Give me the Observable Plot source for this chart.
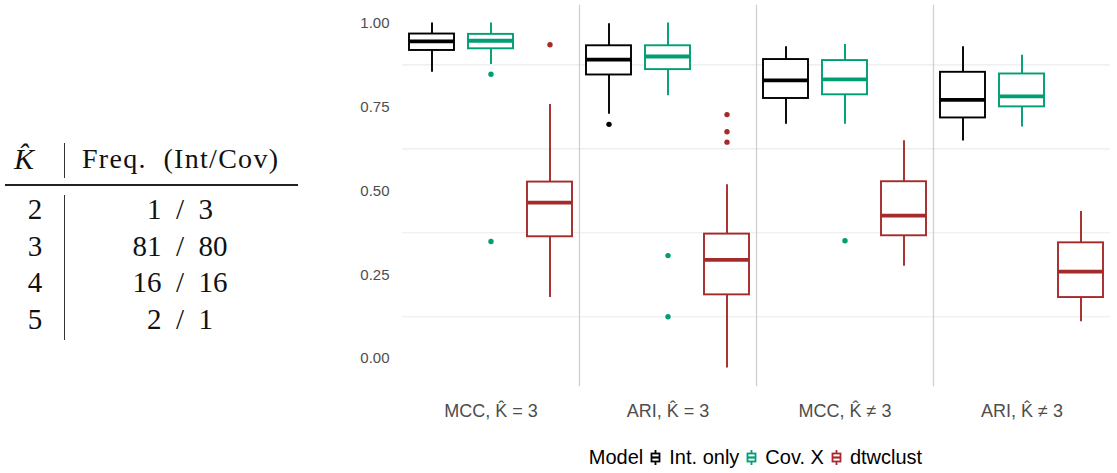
<!DOCTYPE html>
<html>
<head>
<meta charset="utf-8">
<script src="https://cdn.jsdelivr.net/npm/d3@7"></script>
<script src="https://cdn.jsdelivr.net/npm/@observablehq/plot@0.6"></script>
<style>
  html, body { margin: 0; padding: 0; background: #fff; }
  #page { position: relative; width: 1117px; height: 473px; overflow: hidden; background: #fff; }
  .tex { position: absolute; font-family: "Liberation Serif", "DejaVu Serif", serif; color: #111; white-space: nowrap; }
  .vbar { position: absolute; width: 1.3px; background: #333; }
  .hrule { position: absolute; height: 2px; background: #222; }
  #chart { position: absolute; left: 330px; top: 0px; }
  #legend { position: absolute; left: 400px; width: 711px; top: 446px; display: flex; justify-content: center; align-items: center;
            font-family: "Liberation Sans", Arial, sans-serif; font-size: 20px; color: #000; }
  #legend .key { margin: 0 8px 0 7px; }
</style>
</head>
<body>
<div id="page">
  <div id="table"></div>
  <div id="chart"></div>
  <div id="legend"></div>
</div>
<script>
// ---------- data ----------
const facets = ["MCC, K\u0302 = 3", "ARI, K\u0302 = 3", "MCC, K\u0302 \u2260 3", "ARI, K\u0302 \u2260 3"];
const models = ["Int. only", "Cov. X", "dtwclust"];
const colors = ["#000000", "#009E73", "#A52A2A"];

// summary statistics, order: facet-major, model-minor (12 boxes)
const whiskerLow  = [0.853, 0.876, 0.182,  0.728, 0.783, -0.028,  0.698, 0.698, 0.275,  0.648, 0.690, 0.110];
const q1          = [0.918, 0.923, 0.363,  0.845, 0.861, 0.190,   0.775, 0.786, 0.366,  0.717, 0.750, 0.182];
const median      = [0.945, 0.947, 0.465,  0.891, 0.900, 0.294,   0.829, 0.832, 0.426,  0.771, 0.781, 0.259];
const q3          = [0.967, 0.966, 0.526,  0.932, 0.932, 0.371,   0.891, 0.888, 0.527,  0.853, 0.848, 0.345];
const whiskerHigh = [1.000, 1.000, 0.757,  0.998, 1.000, 0.518,   0.929, 0.936, 0.649,  0.929, 0.904, 0.438];

// outliers: facet index, model index, value
const outlierFacet = [0, 0, 0,  1, 1, 1, 1, 1, 1,  2];
const outlierModel = [1, 1, 2,  0, 1, 1, 2, 2, 2,  1];
const outlierValue = [0.847, 0.349, 0.935,  0.698, 0.307, 0.125, 0.727, 0.676, 0.645,  0.351];

const yTicks = [0, 0.25, 0.50, 0.75, 1.00];
const gridValues = [0.125, 0.375, 0.625, 0.875];

// table
const tableHeader = ["K\u0302", "Freq.  (Int/Cov)"];
const tableK = ["2", "3", "4", "5"];
const tableFreq = ["1 / 3", "81 / 80", "16 / 16", "2 / 1"];

// ---------- table ----------
const tbl = document.getElementById("table");
function addTex(text, left, top, size, extra) {
  const d = document.createElement("div");
  d.className = "tex";
  d.textContent = text;
  d.style.left = left + "px";
  d.style.top = top + "px";
  d.style.fontSize = size + "px";
  if (extra) Object.assign(d.style, extra);
  tbl.appendChild(d);
  return d;
}
addTex(tableHeader[0], 9, 142, 30, {fontStyle: "italic", width: "30px", textAlign: "center"});
addTex(tableHeader[1], 82, 143, 28, {whiteSpace: "pre", letterSpacing: "1.3px"});
tableK.forEach((k, i) => {
  addTex(k, 15, 193 + i * 36.5, 29, {width: "40px", textAlign: "center"});
  addTex(tableFreq[i].replace(/ /g, "\u2002"), 80, 193 + i * 36.5, 29, {width: "200px", textAlign: "center", whiteSpace: "pre"});
});
[[143, 35], [195, 145]].forEach(([t, h]) => {
  const v = document.createElement("div"); v.className = "vbar";
  v.style.left = "64px"; v.style.top = t + "px"; v.style.height = h + "px"; tbl.appendChild(v);
});
const hr = document.createElement("div"); hr.className = "hrule";
hr.style.left = "5px"; hr.style.top = "184px"; hr.style.width = "293px"; tbl.appendChild(hr);

// ---------- chart ----------
const boxes = [];
facets.forEach((f, i) => models.forEach((m, j) => {
  const k = i * models.length + j;
  boxes.push({facet: f, model: m, lo: whiskerLow[k], q1: q1[k], med: median[k], q3: q3[k], hi: whiskerHigh[k]});
}));
const outliers = outlierValue.map((v, i) => ({facet: facets[outlierFacet[i]], model: models[outlierModel[i]], value: v}));

const chart = Plot.plot({
  width: 787,
  height: 432,
  marginLeft: 70,
  marginRight: 6,
  marginTop: 5,
  marginBottom: 47,
  style: {fontFamily: "'Liberation Sans', Arial, sans-serif", background: "white", overflow: "visible"},
  fx: {domain: facets, padding: 0, label: null},
  x: {domain: models, paddingInner: 0.24, paddingOuter: 0.12, axis: null},
  y: {domain: [-0.08, 1.052], axis: null},
  color: {domain: models, range: colors},
  marks: [
    Plot.gridY(gridValues, {stroke: "#ebebeb", strokeOpacity: 1, strokeWidth: 1.1}),
    ...facets.slice(1).map(f => Plot.frame({anchor: "left", stroke: "#d0d0d0", strokeWidth: 1.3, fx: () => f})),
    Plot.ruleX(boxes, {fx: "facet", x: "model", y1: "lo", y2: "hi", stroke: "model", strokeWidth: 1.9}),
    Plot.barY(boxes, {fx: "facet", x: "model", y1: "q1", y2: "q3", fill: "white", stroke: "model", strokeWidth: 1.9}),
    Plot.tickY(boxes, {fx: "facet", x: "model", y: "med", stroke: "model", strokeWidth: 3.8}),
    Plot.dot(outliers, {fx: "facet", x: "model", y: "value", fill: "model", r: 2.7, stroke: null}),
    Plot.axisY(yTicks, {anchor: "left", tickSize: 0, tickPadding: 13, tickFormat: d3.format(".2f"), fontSize: 15, color: "#4d4d4d", label: null}),
    Plot.axisFx({anchor: "bottom", tickSize: 0, tickPadding: 19, fontSize: 18, color: "#4d4d4d", label: null})
  ]
});
document.getElementById("chart").appendChild(chart);

// ---------- legend ----------
const legend = document.getElementById("legend");
const title = document.createElement("span");
title.textContent = "Model";
legend.appendChild(title);
models.forEach((m, i) => {
  const ns = "http://www.w3.org/2000/svg";
  const s = document.createElementNS(ns, "svg");
  s.setAttribute("width", 11); s.setAttribute("height", 17); s.setAttribute("class", "key");
  s.innerHTML = `<line x1="5.5" x2="5.5" y1="1" y2="16" stroke="${colors[i]}" stroke-width="1.8"/>
    <rect x="1.5" y="4.5" width="8" height="8" fill="white" stroke="${colors[i]}" stroke-width="1.8"/>
    <line x1="1.5" x2="9.5" y1="8.5" y2="8.5" stroke="${colors[i]}" stroke-width="2.2"/>`;
  legend.appendChild(s);
  const t = document.createElement("span");
  t.textContent = m;
  legend.appendChild(t);
});
</script>
</body>
</html>
